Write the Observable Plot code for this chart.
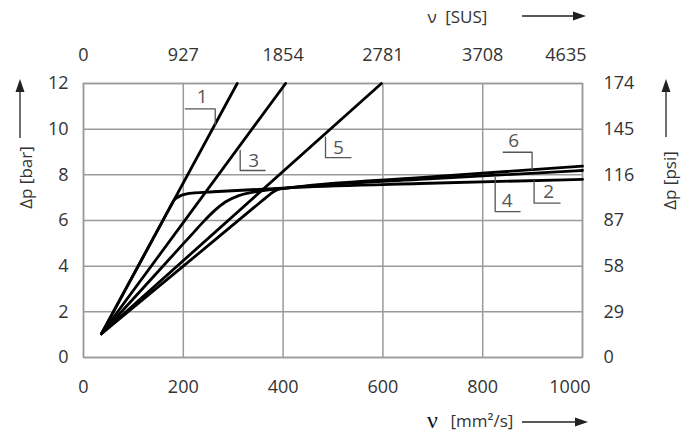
<!DOCTYPE html>
<html>
<head>
<meta charset="utf-8">
<script src="https://cdn.jsdelivr.net/npm/d3@7"></script>
<script src="https://cdn.jsdelivr.net/npm/@observablehq/plot@0.6"></script>
<style>
  html, body { margin: 0; padding: 0; background: #fff; }
  #chart svg { display: block; }
</style>
</head>
<body>
<div id="chart"></div>
<script>
// Axis ticks
const nuTicks = [0, 200, 400, 600, 800, 1000];          // ν [mm²/s]
const dpTicks = [0, 2, 4, 6, 8, 10, 12];                 // Δp [bar]
const susTicks = [0, 927, 1854, 2781, 3708, 4635];       // ν [SUS]
const psiTicks = [0, 29, 58, 87, 116, 145, 174];         // Δp [psi]
const SUS_PER_MM2S = 4.635;
const PSI_PER_BAR = 14.5;

// Pressure-drop curves, ν [mm²/s] against Δp [bar]
const curve1Nu = [36, 308];
const curve1Dp = [1.04, 12];
const curve2Nu = [36, 100, 150, 172, 182, 189, 197, 207, 222, 260, 427, 674, 1000];
const curve2Dp = [1.04, 3.62, 5.63, 6.52, 6.9, 7.02, 7.11, 7.17, 7.21, 7.26, 7.45, 7.62, 7.8];
const curve3Nu = [36, 405];
const curve3Dp = [1.04, 12];
const curve4Nu = [36, 150, 220, 240, 262, 285, 310, 335, 427, 674, 1000];
const curve4Dp = [1.04, 3.78, 5.46, 5.94, 6.42, 6.82, 7.08, 7.22, 7.46, 7.8, 8.19];
const curve5Nu = [36, 597];
const curve5Dp = [1.04, 12];
const curve6Nu = [36, 200, 340, 360, 375, 390, 427, 674, 1000];
const curve6Dp = [1.04, 4.0, 6.54, 6.9, 7.17, 7.36, 7.47, 7.88, 8.38];

// Curve labels and their leader brackets (start on curve, corner, end)
const labelIds = ["1", "2", "3", "4", "5", "6"];
const labelNu = [238, 932, 341, 849, 511, 862];
const labelDp = [11.4, 7.24, 8.63, 6.85, 9.2, 9.47];
const leaderNu = [[264, 264, 204], [903, 903, 955], [314, 314, 364], [825, 825, 875], [485, 485, 536], [899, 899, 841]];
const leaderDp = [[10.2, 10.89, 10.89], [7.74, 6.76, 6.76], [9.07, 8.19, 8.19], [7.9, 6.39, 6.39], [9.65, 8.75, 8.75], [8.25, 8.99, 8.99]];

const curveNu = [curve1Nu, curve2Nu, curve3Nu, curve4Nu, curve5Nu, curve6Nu];
const curveDp = [curve1Dp, curve2Dp, curve3Dp, curve4Dp, curve5Dp, curve6Dp];
const curves = labelIds.flatMap((id, i) => curveNu[i].map((nu, j) => ({id, nu, dp: curveDp[i][j]})));
const leaders = labelIds.flatMap((id, i) => leaderNu[i].map((nu, j) => ({id, nu, dp: leaderDp[i][j]})));
const labels = labelIds.map((id, i) => ({id, nu: labelNu[i], dp: labelDp[i]}));

const M = {top: 83, right: 110, bottom: 79, left: 83};
const W = 692, H = 436;
const gridColor = "#9a9a9a";
const textColor = "#333";
const FONT = "'Open Sans', 'Noto Sans', sans-serif";
const TICK = 18;
const str = d => String(d);

const chart = Plot.plot({
  width: W,
  height: H,
  marginTop: M.top,
  marginRight: M.right,
  marginBottom: M.bottom,
  marginLeft: M.left,
  x: {domain: [0, 1000], axis: null},
  y: {domain: [0, 12], axis: null},
  style: {fontFamily: FONT, fontSize: "17px", color: textColor, background: "#fff"},
  marks: [
    Plot.gridX(nuTicks, {stroke: gridColor, strokeOpacity: 1, strokeWidth: 1.5}),
    Plot.gridY(dpTicks, {stroke: gridColor, strokeOpacity: 1, strokeWidth: 1.5}),
    Plot.frame({stroke: gridColor, strokeWidth: 1.5}),

    // bottom ν [mm²/s] tick labels
    Plot.text(nuTicks.slice(0, -1), {x: d => d, text: str, frameAnchor: "bottom", lineAnchor: "middle", textAnchor: "middle", dy: 30, fill: textColor, fontSize: TICK}),
    Plot.text(nuTicks.slice(-1), {x: d => d, text: str, frameAnchor: "bottom", lineAnchor: "middle", textAnchor: "end", dy: 30, dx: 8, fill: textColor, fontSize: TICK}),
    // top ν [SUS] tick labels
    Plot.text(susTicks.slice(0, -1), {x: d => d / SUS_PER_MM2S, text: str, frameAnchor: "top", lineAnchor: "middle", textAnchor: "middle", dy: -28, fill: textColor, fontSize: TICK}),
    Plot.text(susTicks.slice(-1), {x: d => d / SUS_PER_MM2S, text: str, frameAnchor: "top", lineAnchor: "middle", textAnchor: "end", dy: -28, dx: 4, fill: textColor, fontSize: TICK}),
    // left Δp [bar] tick labels
    Plot.text(dpTicks, {y: d => d, text: str, frameAnchor: "left", lineAnchor: "middle", textAnchor: "end", dx: -15, fill: textColor, fontSize: TICK}),
    // right Δp [psi] tick labels
    Plot.text(psiTicks, {y: d => d / PSI_PER_BAR, text: str, frameAnchor: "right", lineAnchor: "middle", textAnchor: "start", dx: 21, fill: textColor, fontSize: TICK}),

    // axis titles
    Plot.text(["Δp [bar]"], {frameAnchor: "left", textAnchor: "middle", lineAnchor: "middle", dx: -57, dy: -43, rotate: -90, fill: textColor, fontSize: 17}),
    Plot.text(["Δp [psi]"], {frameAnchor: "right", textAnchor: "middle", lineAnchor: "middle", dx: 88, dy: -40, rotate: -90, fill: textColor, fontSize: 17}),
    Plot.text(["ν\u2002[SUS]"], {frameAnchor: "top-right", textAnchor: "start", lineAnchor: "middle", dx: -155, dy: -66, fill: textColor, fontSize: 17}),
    Plot.text(["ν"], {frameAnchor: "bottom-right", textAnchor: "middle", lineAnchor: "middle", dx: -150, dy: 63, fill: "#111", fontSize: 24, fontFamily: "'Liberation Serif', serif"}),
    Plot.text(["[mm²/s]"], {frameAnchor: "bottom-right", textAnchor: "start", lineAnchor: "middle", dx: -132, dy: 64, fill: textColor, fontSize: 17}),

    // curves
    Plot.line(curves, {x: "nu", y: "dp", z: "id", curve: "monotone-x", stroke: "#000", strokeWidth: 2.8, strokeLinejoin: "round", strokeLinecap: "round"}),

    // label brackets and numbers
    Plot.line(leaders, {x: "nu", y: "dp", z: "id", stroke: "#555", strokeWidth: 1.3}),
    Plot.text(labels, {x: "nu", y: "dp", text: "id", fill: "#555", fontSize: 19})
  ]
});

document.getElementById("chart").appendChild(chart);

// Direction arrows beside the axis titles
const svg = d3.select(chart);
const g = svg.append("g").attr("fill", "#222").attr("stroke", "#222");
function arrow(x1, y1, x2, y2) {
  const len = 13, half = 4.5;
  const a = Math.atan2(y2 - y1, x2 - x1);
  const bx = x2 - len * Math.cos(a), by = y2 - len * Math.sin(a);
  g.append("line").attr("x1", x1).attr("y1", y1).attr("x2", bx).attr("y2", by).attr("stroke-width", 1.3);
  const px = -Math.sin(a) * half, py = Math.cos(a) * half;
  g.append("path").attr("stroke", "none")
    .attr("d", `M${x2},${y2}L${bx + px},${by + py}L${bx - px},${by - py}Z`);
}
arrow(522, 16, 586, 16);     // ν [SUS]
arrow(522, 422, 588, 422);   // ν [mm²/s]
arrow(20, 138, 20, 79);      // Δp [bar]
arrow(666, 137, 666, 79);    // Δp [psi]
</script>
</body>
</html>
